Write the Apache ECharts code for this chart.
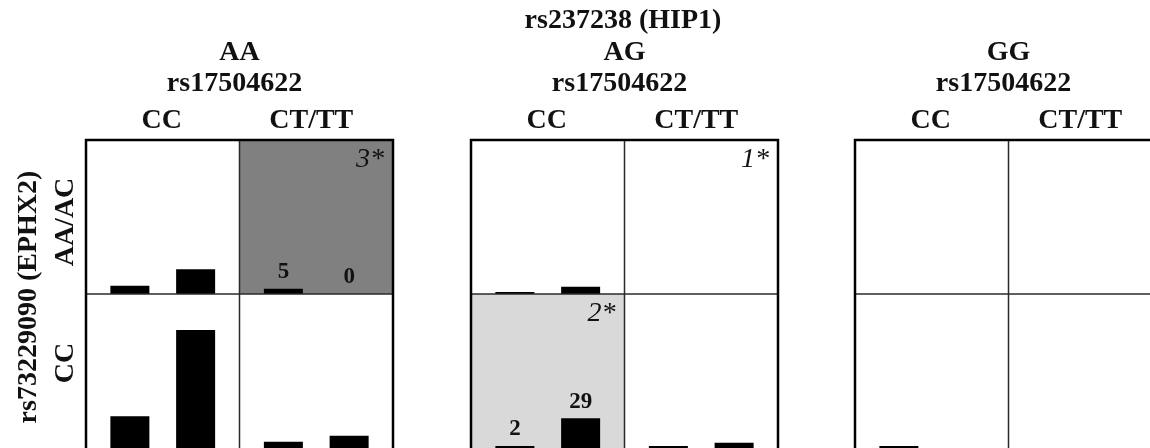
<!DOCTYPE html>
<html>
<head>
<meta charset="utf-8">
<script src="https://cdn.jsdelivr.net/npm/echarts@6/dist/echarts.min.js"></script>
<style>
html, body { margin: 0; padding: 0; background: #fff; }
#chart { width: 1150px; height: 448px; }
</style>
</head>
<body>
<div id="chart"></div>
<script>
// headers
const topTitle = 'rs237238 (HIP1)'
const subTitle = 'rs17504622'
const sideTitle = 'rs73229090 (EPHX2)'
const panelNames = ['AA', 'AG', 'GG']
const colNames = ['CC', 'CT/TT']
const rowNames = ['AA/AC', 'CC']
const barCats = ['a', 'b']

// bar heights per panel row: [CC bar1, CC bar2, CT/TT bar1, CT/TT bar2]
const aaRowAA = [8, 24, 5, 0]
const aaRowCC = [31, 115, 6, 12]
const agRowAA = [2, 7, 0, 0]
const agRowCC = [2, 29, 2, 5]
const ggRowAA = [0, 0, 0, 0]
const ggRowCC = [2, 0, 0, 0]
const panelRows = [[aaRowAA, aaRowCC], [agRowAA, agRowCC], [ggRowAA, ggRowCC]]

// cells with numbers on bars, shaded cells, starred cells  [panel, row, col]
const labelCells = [[0, 0, 1], [1, 1, 0]]
const shadeCells = [[0, 0, 1], [1, 1, 0]]
const shadeColors = ['#808080', '#d9d9d9']
const starCells = [[0, 0, 1], [1, 0, 1], [1, 1, 0]]
const starTexts = ['3*', '1*', '2*']

// layout
const panelLeft = [86, 471, 855]
const panelW = 307
const gridTop = 140
const cellH = 154
const inset = 11
const serif = '"Liberation Serif", "Times New Roman", serif'

const sameCell = function(a, p, r, c) {
    return a[0] === p && a[1] === r && a[2] === c
}

const textEl = function(text, x, y, size, opts) {
    const o = opts || {}
    return {
        type: 'text',
        x: x,
        y: y,
        rotation: o.rotation || 0,
        z: 20,
        style: {
            text: text,
            x: 0,
            y: 0,
            fill: '#111',
            fontSize: size,
            fontFamily: serif,
            fontWeight: o.weight || 'bold',
            fontStyle: o.style || 'normal',
            align: o.align || 'center',
            textAlign: o.align || 'center',
            verticalAlign: 'middle',
            textVerticalAlign: 'middle',
        },
    }
}

const grids = []
const xAxes = []
const yAxes = []
const series = []
const graphics = []

_each3 = function(fn) {
    for (let p = 0; p < 3; p++) {
        for (let r = 0; r < 2; r++) {
            for (let c = 0; c < 2; c++) {
                fn(p, r, c)
            }
        }
    }
}

_each3(function(p, r, c) {
    const half = panelW / 2
    const cx = panelLeft[p] + c * half
    const cy = gridTop + r * cellH
    const idx = grids.length

    // cell background
    let fill = '#fff'
    shadeCells.forEach((s, i) => {
        if (sameCell(s, p, r, c)) {
            fill = shadeColors[i]
        }
    })
    graphics.push({
        type: 'rect',
        z: 0,
        shape: { x: cx, y: cy, width: half, height: cellH },
        style: { fill: fill },
    })

    starCells.forEach((s, i) => {
        if (sameCell(s, p, r, c)) {
            graphics.push(textEl(starTexts[i], cx + half - 9, cy + 20, 28,
                { weight: 'normal', style: 'italic', align: 'right' }))
        }
    })

    grids.push({
        left: cx + inset,
        top: cy,
        width: half - inset * 2,
        height: cellH,
        containLabel: false,
    })
    xAxes.push({
        type: 'category',
        gridIndex: idx,
        data: barCats,
        show: false,
    })
    yAxes.push({
        type: 'value',
        gridIndex: idx,
        min: 0,
        max: 150,
        show: false,
    })

    const showLabel = labelCells.some(s => sameCell(s, p, r, c))
    const values = panelRows[p][r].slice(c * 2, c * 2 + 2)
    series.push({
        type: 'bar',
        xAxisIndex: idx,
        yAxisIndex: idx,
        barWidth: 39,
        z: 5,
        itemStyle: { color: '#000' },
        label: {
            show: showLabel,
            position: 'top',
            distance: 5,
            color: '#111',
            fontSize: 23,
            fontWeight: 'bold',
            fontFamily: serif,
        },
        data: values,
        silent: true,
        animation: false,
    })
})

// frames, dividers and headers
panelLeft.forEach((x, p) => {
    const mid = x + panelW / 2
    graphics.push({
        type: 'line',
        z: 10,
        shape: { x1: mid, y1: gridTop, x2: mid, y2: gridTop + cellH * 2 + 4 },
        style: { stroke: '#2a2a2a', lineWidth: 1.5 },
    })
    graphics.push({
        type: 'line',
        z: 10,
        shape: { x1: x, y1: gridTop + cellH, x2: x + panelW, y2: gridTop + cellH },
        style: { stroke: '#2a2a2a', lineWidth: 1.5 },
    })
    graphics.push({
        type: 'rect',
        z: 11,
        shape: { x: x, y: gridTop, width: panelW, height: cellH * 2 + 4 },
        style: { fill: 'none', stroke: '#000', lineWidth: 2.5 },
    })

    graphics.push(textEl(panelNames[p], mid, 52.5, 28))
    graphics.push(textEl(subTitle, mid - 5, 83.5, 28))
    graphics.push(textEl(colNames[0], x + panelW / 4 - 1, 120.5, 28))
    graphics.push(textEl(colNames[1], x + panelW * 3 / 4 - 5, 120.5, 28))
})

graphics.push(textEl(topTitle, 623, 20.5, 28))
graphics.push(textEl(sideTitle, 28.5, 297, 28, { rotation: Math.PI / 2 }))
graphics.push(textEl(rowNames[0], 65.5, 222, 28, { rotation: Math.PI / 2 }))
graphics.push(textEl(rowNames[1], 65.5, 363, 28, { rotation: Math.PI / 2 }))

const __main = function() {
    const chart = echarts.init(document.getElementById('chart'), null, { renderer: 'canvas' })
    chart.setOption({
        animation: false,
        backgroundColor: '#fff',
        grid: grids,
        xAxis: xAxes,
        yAxis: yAxes,
        series: series,
        graphic: { elements: graphics },
    })
}

__main()
</script>
</body>
</html>
